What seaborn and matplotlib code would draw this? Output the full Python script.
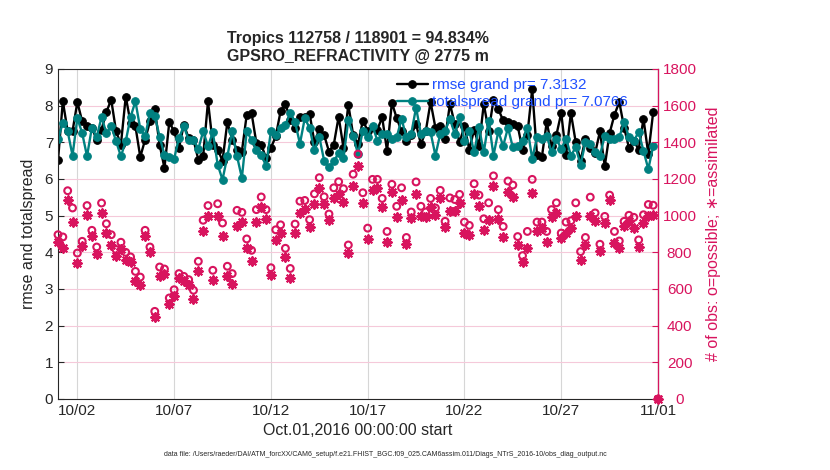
import numpy as np
import pandas as pd
import seaborn as sns
import matplotlib.pyplot as plt
import matplotlib.dates as mdates

# 6-hourly bins, Oct 1 00Z .. Nov 1 00Z (last bin has no obs)
times = pd.date_range("2016-10-01 00:00", periods=125, freq="6h")
tick_days = ["2016-10-02", "2016-10-07", "2016-10-12", "2016-10-17",
             "2016-10-22", "2016-10-27", "2016-11-01"]

rmse = [6.51, 8.12, 7.30, 7.30, 8.10, 7.57, 7.44, 7.40, 7.07, 7.35,
        7.83, 8.16, 7.30, 6.94, 8.25, 7.53, 7.44, 6.60, 7.07, 7.57,
        7.90, 6.94, 6.30, 7.55, 7.30, 6.85, 7.48, 7.12, 7.07, 6.53,
        6.62, 8.12, 6.94, 6.80, 6.50, 7.55, 7.07, 6.80, 6.75, 7.75,
        7.80, 6.98, 6.94, 6.57, 6.85, 7.16, 7.85, 8.05, 7.62, 7.40,
        7.69, 7.70, 7.78, 7.00, 7.36, 7.20, 6.75, 6.94, 7.70, 6.85,
        8.03, 7.20, 6.95, 7.59, 7.32, 7.41, 7.35, 7.68, 6.77, 8.08,
        7.66, 7.30, 7.05, 7.20, 7.50, 6.95, 7.30, 8.10, 7.40, 7.45,
        7.10, 8.05, 7.50, 7.00, 7.45, 6.80, 7.35, 6.90, 8.05, 7.30,
        8.15, 7.90, 7.60, 7.55, 7.50, 7.45, 6.80, 7.20, 8.45, 6.65,
        6.60, 7.55, 6.90, 7.20, 7.80, 6.65, 7.80, 7.00, 6.50, 7.10,
        6.85, 6.70, 7.30, 6.35, 7.25, 7.75, 8.10, 7.40, 6.85, 7.05,
        6.80, 7.64, 6.68, 7.82, np.nan]

spread = [7.09, 7.53, 7.30, 6.64, 7.66, 7.25, 6.62, 7.40, 7.15, 7.69,
          7.25, 7.44, 7.03, 6.62, 7.03, 7.69, 8.12, 7.37, 7.16, 7.80,
          7.73, 7.15, 6.66, 6.60, 6.55, 7.12, 7.44, 7.07, 7.07, 6.82,
          7.30, 6.90, 7.27, 6.39, 5.98, 6.62, 7.30, 6.62, 6.03, 7.30,
          7.07, 6.80, 6.66, 6.36, 7.30, 7.20, 7.39, 7.48, 7.80, 7.55,
          6.96, 7.66, 7.39, 6.78, 7.15, 6.50, 6.33, 6.48, 6.71, 6.57,
          7.62, 7.18, 6.68, 7.32, 7.14, 7.45, 7.05, 7.23, 7.23, 7.10,
          7.14, 7.64, 7.14, 7.23, 7.95, 7.23, 7.32, 7.27, 6.64, 7.23,
          7.32, 7.64, 7.23, 7.68, 7.05, 7.32, 6.73, 7.41, 6.73, 7.59,
          6.64, 7.30, 6.90, 7.40, 6.86, 6.90, 7.05, 7.40, 6.55, 7.14,
          7.10, 7.18, 6.73, 7.10, 6.82, 7.10, 6.64, 6.86, 6.39, 7.00,
          6.95, 6.73, 6.64, 7.18, 7.10, 7.10, 7.14, 7.55, 7.14, 7.05,
          7.27, 6.77, 6.27, 6.90, np.nan]

n_possible = [896, 884, 1136, 1042, 796, 860, 1055, 920, 829, 1069,
              956, 896, 815, 855, 800, 775, 696, 665, 920, 829,
              478, 720, 709, 551, 596, 684, 669, 651, 593, 751,
              975, 1055, 702, 1065, 960, 724, 684, 1029, 1018, 873,
              811, 1033, 1102, 1033, 716, 923, 950, 822, 712, 954,
              1079, 1083, 978, 1119, 1207, 1103, 1009, 1152, 1185, 1147,
              840, 1226, 1336, 1125, 932, 1198, 1198, 1094, 914, 1171,
              1051, 1152, 881, 1020, 1184, 1051, 1020, 1094, 1042, 1138,
              969, 1097, 1088, 1116, 965, 947, 1174, 1112, 983, 1070,
              1217, 1033, 941, 1189, 1167, 886, 782, 914, 1198, 965,
              965, 914, 1033, 1070, 905, 965, 972, 1070, 804, 881,
              1101, 1015, 844, 996, 1112, 914, 862, 969, 1002, 991,
              868, 1005, 1061, 1057, 0]

n_used = [855, 824, 1084, 965, 742, 836, 1005, 891, 793, 1014,
          905, 842, 782, 818, 760, 745, 642, 624, 887, 800,
          447, 669, 684, 520, 560, 660, 642, 624, 545, 696,
          915, 996, 651, 996, 891, 673, 629, 945, 964, 826,
          752, 965, 1046, 983, 679, 868, 905, 776, 660, 905,
          1015, 1039, 936, 1064, 1152, 1064, 978, 1094, 1116, 1075,
          794, 1161, 1272, 1070, 872, 1138, 1152, 1046, 859, 1130,
          991, 1088, 844, 987, 1119, 996, 991, 1046, 1005, 1097,
          936, 1028, 1024, 1070, 905, 895, 1119, 1051, 923, 978,
          1161, 983, 886, 1130, 1101, 840, 745, 826, 1125, 914,
          932, 855, 991, 1015, 877, 905, 932, 996, 758, 840,
          996, 969, 807, 960, 1083, 850, 822, 941, 969, 932,
          831, 960, 996, 1005, 0]

df = pd.DataFrame({"time": times, "rmse": rmse, "spread": spread,
                   "possible": n_possible, "used": n_used})

sns.set_style("white")
plt.rcParams["font.family"] = ["Liberation Sans", "DejaVu Sans"]

magenta = "#d8145e"
teal = "#008080"

fig = plt.figure(figsize=(8.3, 4.7), dpi=100)
ax = fig.add_axes([58 / 830, 71 / 470, 600 / 830, 330 / 470])

sns.lineplot(data=df, x="time", y="rmse", ax=ax, color="black", marker="o",
             markersize=5.5, markeredgecolor="black", linewidth=1.7,
             label="rmse grand pr= 7.3132")
sns.lineplot(data=df, x="time", y="spread", ax=ax, color=teal, marker="o",
             markersize=5.5, markeredgecolor=teal, linewidth=1.7,
             label="totalspread grand pr= 7.0766")

ax.set_xlim(times[0], times[-1])
ax.set_ylim(0, 9)
ax.set_yticks(range(0, 10))
ax.set_xticks(pd.to_datetime(tick_days))
ax.xaxis.set_major_formatter(mdates.DateFormatter("%m/%d"))
ax.grid(axis="x", color="#d6d6d6", linewidth=0.8)
ax.grid(axis="y", color="#f5c9da", linewidth=0.8)
ax.set_axisbelow(True)
ax.tick_params(direction="in", labelsize=11, length=4)
ax.set_xlabel("Oct.01,2016 00:00:00 start", fontsize=11.5)
ax.set_ylabel("rmse and totalspread", fontsize=11.5, labelpad=6)
ax.set_title("Tropics 112758 / 118901 = 94.834%\nGPSRO_REFRACTIVITY @ 2775 m",
             fontsize=11.5, fontweight="bold", pad=6, linespacing=1.25)
for s in ["left", "bottom", "top"]:
    ax.spines[s].set_color("#262626")
    ax.spines[s].set_linewidth(0.8)

leg = ax.legend(loc="upper left", bbox_to_anchor=(0.555, 0.99), frameon=False,
                fontsize=11, labelcolor="#1f4fff", handlelength=2.0,
                handletextpad=0.3, labelspacing=0.2, borderaxespad=0)

ax2 = ax.twinx()
sns.scatterplot(data=df, x="time", y="possible", ax=ax2, marker="o", s=24,
                facecolor="none", edgecolor=magenta, linewidth=1.5,
                clip_on=False, zorder=3)
sns.scatterplot(data=df, x="time", y="used", ax=ax2, marker=(8, 2, 0), s=38,
                color=magenta, edgecolor=magenta, linewidth=1.5,
                clip_on=False, zorder=3)
ax2.set_ylim(0, 1800)
ax2.set_yticks(range(0, 1801, 200))
ax2.set_xlim(times[0], times[-1])
ax2.tick_params(direction="in", labelsize=11, length=4, colors=magenta, pad=15.5)
for lab in ax2.get_yticklabels():
    lab.set_horizontalalignment("center")
ax2.set_ylabel("# of obs: o=possible; \u2217=assimilated", color=magenta,
               fontsize=11.5, labelpad=7)
ax2.spines["right"].set_color(magenta)
ax2.spines["right"].set_linewidth(0.9)
for s in ["left", "bottom", "top"]:
    ax2.spines[s].set_visible(False)
ax2.grid(False)

fig.text(385 / 830, 15 / 470,
         "data file: /Users/raeder/DAI/ATM_forcXX/CAM6_setup/f.e21.FHIST_BGC.f09_025.CAM6assim.011/Diags_NTrS_2016-10/obs_diag_output.nc",
         ha="center", va="center", fontsize=5)

fig.savefig("out.png", dpi=100)
